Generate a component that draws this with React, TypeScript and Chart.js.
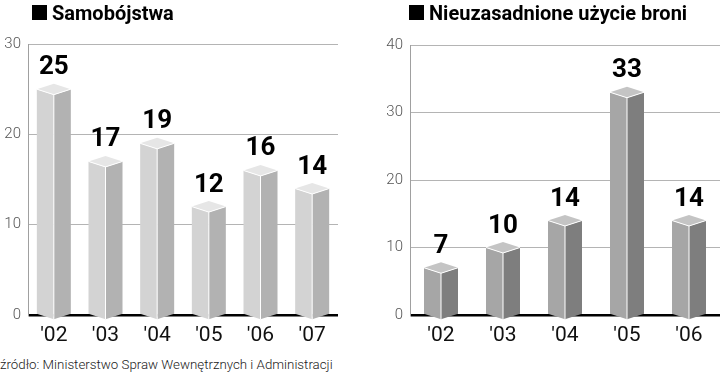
import React, { useEffect, useRef } from "react";
import { Chart, registerables } from "chart.js";
Chart.register(...registerables);

// ---- data ----
const leftTitle = "Samobójstwa";
const leftYears = ["'02", "'03", "'04", "'05", "'06", "'07"];
const leftValues = [25, 17, 19, 12, 16, 14];
const leftMax = 30;

const rightTitle = "Nieuzasadnione użycie broni";
const rightYears = ["'02", "'03", "'04", "'05", "'06"];
const rightValues = [7, 10, 14, 33, 14];
const rightMax = 40;

const yStep = 10;
const sourceText = "źródło: Ministerstwo Spraw Wewnętrznych i Administracji";

type Cfg = {
  title: string;
  labels: string[];
  values: number[];
  max: number;
  width: number;
  height: number;
  axisWidth: number;
  padTop: number;
  padRight: number;
  titleX: number;
  front: string;
  side: string;
  top: string;
};

const bars3d = {
  id: "bars3d",
  afterDatasetsDraw(chart: any, _args: any, opts: any) {
    const ctx = chart.ctx;
    const meta = chart.getDatasetMeta(0);
    const values = chart.data.datasets[0].data;
    const d = 5.5;
    ctx.save();
    meta.data.forEach((el: any, i: number) => {
      const cx = el.x;
      const vy = el.y;
      const by = el.base;
      const hw = el.width / 2;
      // front face
      ctx.fillStyle = opts.front;
      ctx.beginPath();
      ctx.moveTo(cx - hw, vy);
      ctx.lineTo(cx, vy + d);
      ctx.lineTo(cx, by + d);
      ctx.lineTo(cx - hw, by);
      ctx.closePath();
      ctx.fill();
      // side face
      ctx.fillStyle = opts.side;
      ctx.beginPath();
      ctx.moveTo(cx, vy + d);
      ctx.lineTo(cx + hw, vy);
      ctx.lineTo(cx + hw, by);
      ctx.lineTo(cx, by + d);
      ctx.closePath();
      ctx.fill();
      // top face
      ctx.fillStyle = opts.top;
      ctx.beginPath();
      ctx.moveTo(cx - hw, vy);
      ctx.lineTo(cx, vy - d);
      ctx.lineTo(cx + hw, vy);
      ctx.lineTo(cx, vy + d);
      ctx.closePath();
      ctx.fill();
      // white edges
      ctx.strokeStyle = "#ffffff";
      ctx.lineWidth = 1;
      ctx.beginPath();
      ctx.moveTo(cx - hw, vy);
      ctx.lineTo(cx, vy + d);
      ctx.lineTo(cx + hw, vy);
      ctx.moveTo(cx, vy + d);
      ctx.lineTo(cx, by + d);
      ctx.stroke();
      // value label
      ctx.fillStyle = "#000";
      ctx.font = "bold 26px Roboto";
      ctx.textAlign = "center";
      ctx.textBaseline = "alphabetic";
      ctx.fillText(String(values[i]), cx, vy - 15);
    });
    ctx.restore();
  },
  afterDraw(chart: any, _args: any, opts: any) {
    const ctx = chart.ctx;
    ctx.save();
    ctx.fillStyle = "#000";
    ctx.fillRect(opts.titleX, 5, 15, 15);
    ctx.font = "bold 20px Roboto";
    ctx.textAlign = "left";
    ctx.textBaseline = "alphabetic";
    ctx.fillText(opts.title, opts.titleX + 20, 19.5);
    ctx.restore();
  },
};

function BarPanel({ cfg, left }: { cfg: Cfg; left: number }) {
  const ref = useRef<HTMLCanvasElement | null>(null);
  useEffect(() => {
    if (!ref.current) return;
    const chart = new Chart(ref.current, {
      type: "bar",
      data: {
        labels: cfg.labels,
        datasets: [
          {
            data: cfg.values,
            backgroundColor: "rgba(0,0,0,0)",
            borderWidth: 0,
            barThickness: 34,
          },
        ],
      },
      plugins: [bars3d as any],
      options: {
        responsive: false,
        animation: false,
        devicePixelRatio: 1,
        layout: { padding: { top: cfg.padTop, right: cfg.padRight, left: 0, bottom: 0 } },
        plugins: {
          legend: { display: false },
          tooltip: { enabled: false },
          title: { display: false },
          bars3d: {
            front: cfg.front,
            side: cfg.side,
            top: cfg.top,
            title: cfg.title,
            titleX: cfg.titleX,
          },
        } as any,
        scales: {
          x: {
            grid: { display: false, drawTicks: false },
            border: { display: false },
            ticks: {
              color: "#111",
              font: { family: "Roboto", size: 21 },
              padding: 8,
              autoSkip: false,
              maxRotation: 0,
            },
            afterFit: (s: any) => {
              s.height = cfg.height - 315;
            },
          },
          y: {
            min: 0,
            max: cfg.max,
            ticks: {
              stepSize: yStep,
              color: "#555",
              font: { family: "Roboto", size: 15, weight: 300 as any },
              padding: 7,
            },
            grid: {
              drawTicks: false,
              color: (c: any) => (c.tick && c.tick.value === 0 ? "#000" : "#b4b4b4"),
              lineWidth: (c: any) => (c.tick && c.tick.value === 0 ? 2.5 : 1),
            },
            border: { display: true, color: "#a0a0a0", width: 1 },
            afterFit: (s: any) => {
              s.width = cfg.axisWidth;
            },
          },
        },
      } as any,
    });
    return () => chart.destroy();
  }, [cfg]);
  return (
    <canvas
      ref={ref}
      width={cfg.width}
      height={cfg.height}
      style={{ position: "absolute", left, top: 0, width: cfg.width, height: cfg.height }}
    />
  );
}

const leftCfg: Cfg = {
  title: leftTitle,
  labels: leftYears,
  values: leftValues,
  max: leftMax,
  width: 345,
  height: 350,
  axisWidth: 28,
  padTop: 44,
  padRight: 7,
  titleX: 32,
  front: "#d3d3d3",
  side: "#b2b2b2",
  top: "#e6e6e6",
};

const rightCfg: Cfg = {
  title: rightTitle,
  labels: rightYears,
  values: rightValues,
  max: rightMax,
  width: 360,
  height: 350,
  axisWidth: 50,
  padTop: 45,
  padRight: 0,
  titleX: 49,
  front: "#a6a6a6",
  side: "#7e7e7e",
  top: "#c4c4c4",
};

export default function App() {
  return (
    <div
      style={{
        position: "fixed",
        left: 0,
        top: 0,
        width: 720,
        height: 377,
        background: "#fff",
        overflow: "hidden",
      }}
    >
      <BarPanel cfg={leftCfg} left={0} />
      <BarPanel cfg={rightCfg} left={360} />
      <div
        style={{
          position: "absolute",
          left: 0,
          top: 357,
          fontFamily: "Roboto",
          fontWeight: 300,
          fontSize: 13.3,
          color: "#222",
          whiteSpace: "nowrap",
          lineHeight: "16px",
        }}
      >
        {sourceText}
      </div>
    </div>
  );
}
